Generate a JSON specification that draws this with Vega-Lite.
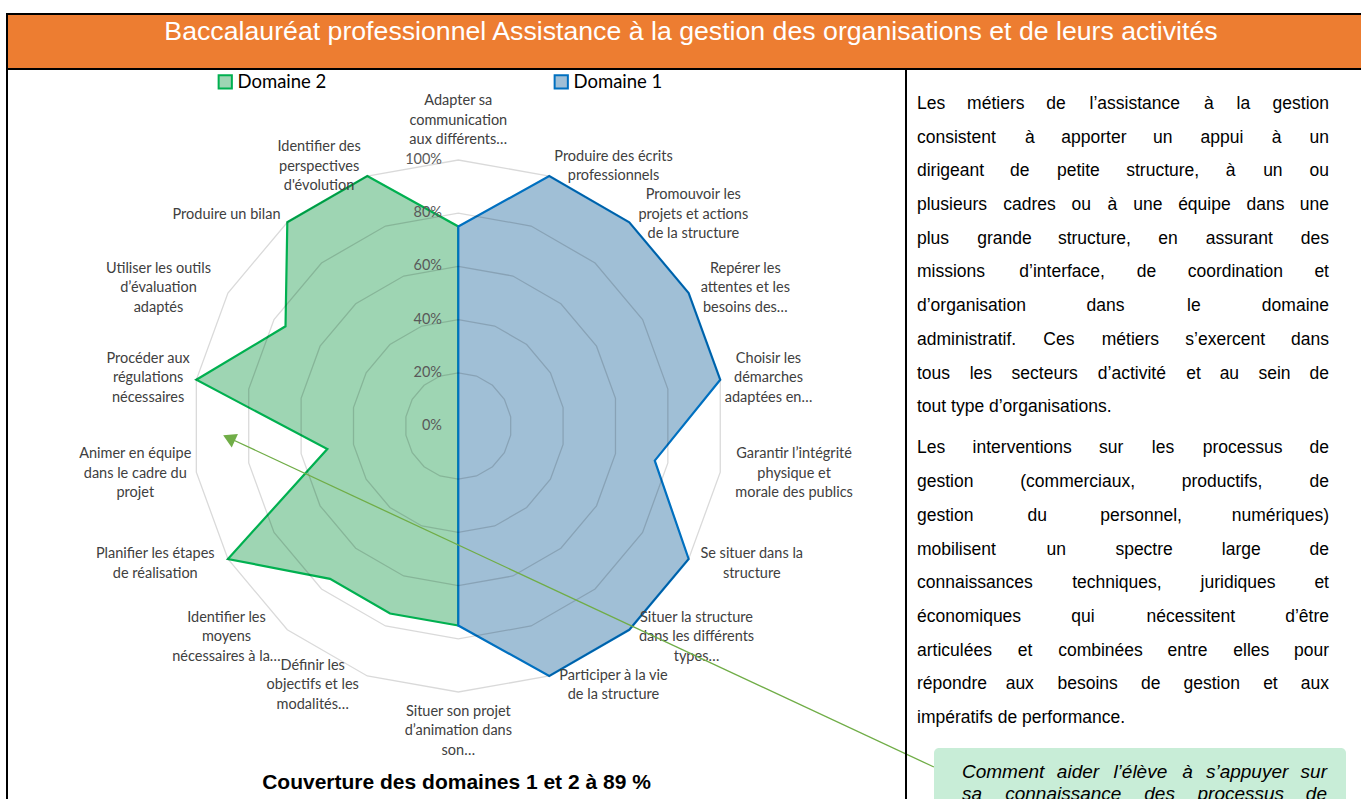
{
  "$schema": "https://vega.github.io/schema/vega-lite/v6.json",
  "padding": {"left": 6, "top": 13, "right": 0, "bottom": 0},
  "background": "#ffffff",
  "spacing": 0,
  "bounds": "flush",
  "config": {"view": {"stroke": "#000000", "strokeWidth": 2}},
  "datasets": {
    "scores": [
      {"series": "Domaine 1", "k": 0, "v": 75}, {"series": "Domaine 1", "k": 1, "v": 100}, {"series": "Domaine 1", "k": 2, "v": 100},
      {"series": "Domaine 1", "k": 3, "v": 100}, {"series": "Domaine 1", "k": 4, "v": 100}, {"series": "Domaine 1", "k": 5, "v": 75},
      {"series": "Domaine 1", "k": 6, "v": 100}, {"series": "Domaine 1", "k": 7, "v": 100}, {"series": "Domaine 1", "k": 8, "v": 100},
      {"series": "Domaine 1", "k": 9, "v": 75}, {"series": "Domaine 1", "k": 10, "v": 0}, {"series": "Domaine 1", "k": 11, "v": 0},
      {"series": "Domaine 1", "k": 12, "v": 0}, {"series": "Domaine 1", "k": 13, "v": 0}, {"series": "Domaine 1", "k": 14, "v": 0},
      {"series": "Domaine 1", "k": 15, "v": 0}, {"series": "Domaine 1", "k": 16, "v": 0}, {"series": "Domaine 1", "k": 17, "v": 0},
      {"series": "Domaine 2", "k": 0, "v": 75}, {"series": "Domaine 2", "k": 1, "v": 0}, {"series": "Domaine 2", "k": 2, "v": 0},
      {"series": "Domaine 2", "k": 3, "v": 0}, {"series": "Domaine 2", "k": 4, "v": 0}, {"series": "Domaine 2", "k": 5, "v": 0},
      {"series": "Domaine 2", "k": 6, "v": 0}, {"series": "Domaine 2", "k": 7, "v": 0}, {"series": "Domaine 2", "k": 8, "v": 0},
      {"series": "Domaine 2", "k": 9, "v": 75}, {"series": "Domaine 2", "k": 10, "v": 75}, {"series": "Domaine 2", "k": 11, "v": 75},
      {"series": "Domaine 2", "k": 12, "v": 100}, {"series": "Domaine 2", "k": 13, "v": 50}, {"series": "Domaine 2", "k": 14, "v": 100},
      {"series": "Domaine 2", "k": 15, "v": 75}, {"series": "Domaine 2", "k": 16, "v": 100}, {"series": "Domaine 2", "k": 17, "v": 100}
    ],
    "cats": [
      {"k": 0, "label": "Adapter sa|communication|aux différents…"},
      {"k": 1, "label": "Produire des écrits|professionnels"},
      {"k": 2, "label": "Promouvoir les|projets et actions|de la structure"},
      {"k": 3, "label": "Repérer les|attentes et les|besoins des…"},
      {"k": 4, "label": "Choisir les|démarches|adaptées en…"},
      {"k": 5, "label": "Garantir l’intégrité|physique et|morale des publics"},
      {"k": 6, "label": "Se situer dans la|structure"},
      {"k": 7, "label": "Situer la structure|dans les différents|types…"},
      {"k": 8, "label": "Participer à la vie|de la structure"},
      {"k": 9, "label": "Situer son projet|d’animation dans|son…"},
      {"k": 10, "label": "Définir les|objectifs et les|modalités…"},
      {"k": 11, "label": "Identifier les|moyens|nécessaires à la…"},
      {"k": 12, "label": "Planifier les étapes|de réalisation"},
      {"k": 13, "label": "Animer en équipe|dans le cadre du|projet"},
      {"k": 14, "label": "Procéder aux|régulations|nécessaires"},
      {"k": 15, "label": "Utiliser les outils|d’évaluation|adaptés"},
      {"k": 16, "label": "Produire un bilan"},
      {"k": 17, "label": "Identifier des|perspectives|d'évolution"}
    ],
    "rings": [
      {"level": 20, "ks": [0,1,2,3,4,5,6,7,8,9,10,11,12,13,14,15,16,17]},
      {"level": 40, "ks": [0,1,2,3,4,5,6,7,8,9,10,11,12,13,14,15,16,17]},
      {"level": 60, "ks": [0,1,2,3,4,5,6,7,8,9,10,11,12,13,14,15,16,17]},
      {"level": 80, "ks": [0,1,2,3,4,5,6,7,8,9,10,11,12,13,14,15,16,17]},
      {"level": 100, "ks": [0,1,2,3,4,5,6,7,8,9,10,11,12,13,14,15,16,17]}
    ],
    "pct": [{"level": 0}, {"level": 20}, {"level": 40}, {"level": 60}, {"level": 80}, {"level": 100}],
    "texte": [
      {"p": 1, "l": 0, "t": "Les métiers de l’assistance à la gestion"},
      {"p": 1, "l": 1, "t": "consistent à apporter un appui à un"},
      {"p": 1, "l": 2, "t": "dirigeant de petite structure, à un ou"},
      {"p": 1, "l": 3, "t": "plusieurs cadres ou à une équipe dans une"},
      {"p": 1, "l": 4, "t": "plus grande structure, en assurant des"},
      {"p": 1, "l": 5, "t": "missions d’interface, de coordination et"},
      {"p": 1, "l": 6, "t": "d’organisation dans le domaine"},
      {"p": 1, "l": 7, "t": "administratif. Ces métiers s’exercent dans"},
      {"p": 1, "l": 8, "t": "tous les secteurs d’activité et au sein de"},
      {"p": 1, "l": 9, "t": "tout type d’organisations."},
      {"p": 2, "l": 0, "t": "Les interventions sur les processus de"},
      {"p": 2, "l": 1, "t": "gestion (commerciaux, productifs, de"},
      {"p": 2, "l": 2, "t": "gestion du personnel, numériques)"},
      {"p": 2, "l": 3, "t": "mobilisent un spectre large de"},
      {"p": 2, "l": 4, "t": "connaissances techniques, juridiques et"},
      {"p": 2, "l": 5, "t": "économiques qui nécessitent d’être"},
      {"p": 2, "l": 6, "t": "articulées et combinées entre elles pour"},
      {"p": 2, "l": 7, "t": "répondre aux besoins de gestion et aux"},
      {"p": 2, "l": 8, "t": "impératifs de performance."}
    ],
    "encadre": [
      {"l": 0, "t": "Comment aider l’élève à s’appuyer sur"},
      {"l": 1, "t": "sa connaissance des processus de"}
    ]
  },
  "vconcat": [
    {
      "width": 1355,
      "height": 55,
      "view": {"fill": "#ED7D31", "stroke": "#000000", "strokeWidth": 2},
      "data": {"values": [{"titre": "Baccalauréat professionnel Assistance à la gestion des organisations et de leurs activités"}]},
      "mark": {"type": "text", "font": "Liberation Sans", "fontSize": 26.7, "color": "#ffffff", "dx": 6.5, "dy": -9.5},
      "encoding": {"text": {"field": "titre", "type": "nominal"}}
    },
    {
      "hconcat": [
        {
          "width": 899,
          "height": 731,
          "title": {"text": "Couverture des domaines 1 et 2 à 89 %", "orient": "bottom", "frame": "group", "anchor": "middle", "offset": -28, "font": "Liberation Sans", "fontSize": 21, "fontWeight": "bold", "color": "#000000"},
          "layer": [
            {
              "data": {"name": "scores"},
              "transform": [
                {"filter": "datum.series == 'Domaine 2'"},
                {"calculate": "datum.v*sin(datum.k*PI/9)", "as": "x"},
                {"calculate": "datum.v*cos(datum.k*PI/9)", "as": "y"}
              ],
              "mark": {"type": "line", "interpolate": "linear-closed", "strokeWidth": 2.2},
              "encoding": {
                "x": {"field": "x", "type": "quantitative", "scale": {"domain": [-169.66, 168.31], "nice": false, "zero": false}, "axis": null},
                "y": {"field": "y", "type": "quantitative", "scale": {"domain": [-140.6, 134.21], "nice": false, "zero": false}, "axis": null},
                "order": {"field": "k", "type": "quantitative"},
                "fill": {"field": "series", "type": "nominal", "scale": {"domain": ["Domaine 2", "Domaine 1"], "range": ["#9ED5B3", "#A0BFD6"]},
                  "legend": {"title": null, "orient": "none", "legendX": 209, "legendY": 58.5, "direction": "horizontal", "symbolType": "square", "symbolSize": 175, "symbolStrokeWidth": 2, "labelFont": "Lato", "labelFontSize": 18.5, "labelColor": "#000000", "columnPadding": 223, "labelOffset": 3}},
                "stroke": {"field": "series", "type": "nominal", "scale": {"domain": ["Domaine 2", "Domaine 1"], "range": ["#00B050", "#0070C0"]},
                  "legend": {"title": null, "orient": "none", "legendX": 209, "legendY": 58.5, "direction": "horizontal", "symbolType": "square", "symbolSize": 175, "symbolStrokeWidth": 2, "labelFont": "Lato", "labelFontSize": 18.5, "labelColor": "#000000", "columnPadding": 223, "labelOffset": 3}}
              }
            },
            {
              "data": {"name": "scores"},
              "transform": [
                {"filter": "datum.series == 'Domaine 1'"},
                {"calculate": "datum.v*sin(datum.k*PI/9)", "as": "x"},
                {"calculate": "datum.v*cos(datum.k*PI/9)", "as": "y"}
              ],
              "mark": {"type": "line", "interpolate": "linear-closed", "strokeWidth": 2.2},
              "encoding": {
                "x": {"field": "x", "type": "quantitative", "scale": {"domain": [-169.66, 168.31], "nice": false, "zero": false}, "axis": null},
                "y": {"field": "y", "type": "quantitative", "scale": {"domain": [-140.6, 134.21], "nice": false, "zero": false}, "axis": null},
                "order": {"field": "k", "type": "quantitative"},
                "fill": {"field": "series", "type": "nominal", "scale": {"domain": ["Domaine 2", "Domaine 1"], "range": ["#9ED5B3", "#A0BFD6"]},
                  "legend": {"title": null, "orient": "none", "legendX": 209, "legendY": 58.5, "direction": "horizontal", "symbolType": "square", "symbolSize": 175, "symbolStrokeWidth": 2, "labelFont": "Lato", "labelFontSize": 18.5, "labelColor": "#000000", "columnPadding": 223, "labelOffset": 3}},
                "stroke": {"field": "series", "type": "nominal", "scale": {"domain": ["Domaine 2", "Domaine 1"], "range": ["#00B050", "#0070C0"]},
                  "legend": {"title": null, "orient": "none", "legendX": 209, "legendY": 58.5, "direction": "horizontal", "symbolType": "square", "symbolSize": 175, "symbolStrokeWidth": 2, "labelFont": "Lato", "labelFontSize": 18.5, "labelColor": "#000000", "columnPadding": 223, "labelOffset": 3}}
              }
            },
            {
              "data": {"name": "rings"},
              "transform": [
                {"flatten": ["ks"], "as": ["k"]},
                {"calculate": "datum.level*sin(datum.k*PI/9)", "as": "x"},
                {"calculate": "datum.level*cos(datum.k*PI/9)", "as": "y"}
              ],
              "mark": {"type": "line", "interpolate": "linear-closed", "stroke": "#000000", "strokeOpacity": 0.15, "strokeWidth": 1.3},
              "encoding": {
                "x": {"field": "x", "type": "quantitative", "scale": {"domain": [-169.66, 168.31], "nice": false, "zero": false}, "axis": null},
                "y": {"field": "y", "type": "quantitative", "scale": {"domain": [-140.6, 134.21], "nice": false, "zero": false}, "axis": null},
                "detail": {"field": "level", "type": "nominal"},
                "order": {"field": "k", "type": "quantitative"}
              }
            },
            {
              "data": {"name": "pct"},
              "transform": [{"calculate": "datum.level + '%'", "as": "lab"}],
              "mark": {"type": "text", "align": "right", "baseline": "middle", "font": "Lato", "fontSize": 14.5, "color": "#595959"},
              "encoding": {
                "x": {"datum": -6.13, "type": "quantitative", "scale": {"domain": [-169.66, 168.31], "nice": false, "zero": false}, "axis": null},
                "y": {"field": "level", "type": "quantitative", "scale": {"domain": [-140.6, 134.21], "nice": false, "zero": false}, "axis": null},
                "text": {"field": "lab", "type": "nominal"}
              }
            },
            {
              "data": {"name": "cats"},
              "transform": [
                {"calculate": "datum.k*PI/9", "as": "a"},
                {"calculate": "split(datum.label, '|')", "as": "lines"},
                {"calculate": "length(datum.lines)", "as": "n"},
                {"calculate": "max(length(datum.lines[0]), datum.n > 1 ? length(datum.lines[1]) : 0, datum.n > 2 ? length(datum.lines[2]) : 0)", "as": "mx"},
                {"calculate": "sin(datum.a)", "as": "s"},
                {"calculate": "cos(datum.a)", "as": "c"},
                {"calculate": "103.76*datum.s + (abs(datum.s) < 0.01 ? 0 : (datum.s > 0 ? 1 : -1)*datum.mx*1.203)", "as": "lx"},
                {"calculate": "103.76*datum.c + (datum.k == 0 ? datum.n*3.665 : (datum.k == 9 ? -datum.n*3.665 : 0)) + (datum.n - 1)*3.665", "as": "ly"}
              ],
              "mark": {"type": "text", "align": "center", "baseline": "middle", "lineBreak": "|", "lineHeight": 19.5, "font": "Lato", "fontSize": 14.5, "color": "#404040"},
              "encoding": {
                "x": {"field": "lx", "type": "quantitative", "scale": {"domain": [-169.66, 168.31], "nice": false, "zero": false}, "axis": null},
                "y": {"field": "ly", "type": "quantitative", "scale": {"domain": [-140.6, 134.21], "nice": false, "zero": false}, "axis": null},
                "text": {"field": "label", "type": "nominal"}
              }
            },
            {
              "data": {"values": [{"renvoi": "encadré"}]},
              "mark": {"type": "rule", "color": "#70AD47", "strokeWidth": 1.3},
              "encoding": {
                "x": {"datum": 178.8, "type": "quantitative", "scale": {"domain": [-169.66, 168.31], "nice": false, "zero": false}, "axis": null},
                "y": {"datum": -128.2, "type": "quantitative", "scale": {"domain": [-140.6, 134.21], "nice": false, "zero": false}, "axis": null},
                "x2": {"datum": -86.2},
                "y2": {"datum": -4.5}
              }
            },
            {
              "data": {"values": [{"renvoi": "encadré"}]},
              "mark": {"type": "point", "shape": "triangle-up", "angle": 294.8, "size": 220, "filled": true, "color": "#70AD47", "opacity": 1},
              "encoding": {
                "x": {"datum": -86.2, "type": "quantitative", "scale": {"domain": [-169.66, 168.31], "nice": false, "zero": false}, "axis": null},
                "y": {"datum": -4.5, "type": "quantitative", "scale": {"domain": [-140.6, 134.21], "nice": false, "zero": false}, "axis": null}
              }
            }
          ]
        },
        {
          "width": 456,
          "height": 731,
          "layer": [
            {
              "data": {"name": "texte"},
              "transform": [
                {"joinaggregate": [{"op": "max", "field": "l", "as": "ml"}], "groupby": ["p"]},
                {"filter": "datum.l == datum.ml"},
                {"calculate": "datum.p == 1 ? datum.l : 10.22 + datum.l", "as": "r"}
              ],
              "mark": {"type": "text", "align": "left", "baseline": "middle", "font": "Liberation Sans", "fontSize": 17.5, "color": "#000000"},
              "encoding": {
                "x": {"datum": 0.55, "type": "quantitative", "scale": {"domain": [0, 22.8], "nice": false, "zero": false}, "axis": null},
                "y": {"field": "r", "type": "quantitative", "scale": {"domain": [-1.0386, 20.653], "nice": false, "zero": false, "reverse": true}, "axis": null},
                "text": {"field": "t", "type": "nominal"}
              }
            },
            {
              "data": {"name": "texte"},
              "transform": [
                {"joinaggregate": [{"op": "max", "field": "l", "as": "ml"}], "groupby": ["p"]},
                {"filter": "datum.l < datum.ml"},
                {"calculate": "datum.p == 1 ? datum.l : 10.22 + datum.l", "as": "r"},
                {"calculate": "split(datum.t, ' ')", "as": "words"},
                {"flatten": ["words"], "as": ["w"]},
                {"calculate": "0.53*length(datum.w) - 0.26*length(replace(datum.w, regexp('[^iljtfr’.,;:()]', 'g'), '')) + 0.28*length(replace(datum.w, regexp('[^mwMWCDGHNOQU]', 'g'), ''))", "as": "we"},
                {"window": [{"op": "row_number", "as": "k"}, {"op": "sum", "field": "we", "as": "cum"}], "groupby": ["p", "l"], "frame": [null, 0], "ignorePeers": true},
                {"joinaggregate": [{"op": "count", "as": "n"}, {"op": "sum", "field": "we", "as": "tot"}], "groupby": ["p", "l"]},
                {"calculate": "(20.6 - datum.tot*0.875)/(datum.n - 1)", "as": "gap"},
                {"calculate": "0.55 + (datum.cum - datum.we/2)*0.875 + (datum.k - 1)*datum.gap", "as": "xc"}
              ],
              "layer": [
                {
                  "transform": [{"filter": "datum.k == 1"}],
                  "mark": {"type": "text", "align": "left", "baseline": "middle", "font": "Liberation Sans", "fontSize": 17.5, "color": "#000000"},
                  "encoding": {
                    "x": {"datum": 0.55, "type": "quantitative", "scale": {"domain": [0, 22.8], "nice": false, "zero": false}, "axis": null},
                    "y": {"field": "r", "type": "quantitative", "scale": {"domain": [-1.0386, 20.653], "nice": false, "zero": false, "reverse": true}, "axis": null},
                    "text": {"field": "w", "type": "nominal"}
                  }
                },
                {
                  "transform": [{"filter": "datum.k == datum.n"}],
                  "mark": {"type": "text", "align": "right", "baseline": "middle", "font": "Liberation Sans", "fontSize": 17.5, "color": "#000000"},
                  "encoding": {
                    "x": {"datum": 21.15, "type": "quantitative", "scale": {"domain": [0, 22.8], "nice": false, "zero": false}, "axis": null},
                    "y": {"field": "r", "type": "quantitative", "scale": {"domain": [-1.0386, 20.653], "nice": false, "zero": false, "reverse": true}, "axis": null},
                    "text": {"field": "w", "type": "nominal"}
                  }
                },
                {
                  "transform": [{"filter": "datum.k > 1 && datum.k < datum.n"}],
                  "mark": {"type": "text", "align": "center", "baseline": "middle", "font": "Liberation Sans", "fontSize": 17.5, "color": "#000000"},
                  "encoding": {
                    "x": {"field": "xc", "type": "quantitative", "scale": {"domain": [0, 22.8], "nice": false, "zero": false}, "axis": null},
                    "y": {"field": "r", "type": "quantitative", "scale": {"domain": [-1.0386, 20.653], "nice": false, "zero": false, "reverse": true}, "axis": null},
                    "text": {"field": "w", "type": "nominal"}
                  }
                }
              ]
            },
            {
              "data": {"values": [{"encadre": "question"}]},
              "mark": {"type": "rect", "fill": "#C8EDD7", "cornerRadiusTopLeft": 5, "cornerRadiusTopRight": 5},
              "encoding": {
                "x": {"datum": 1.4, "type": "quantitative", "scale": {"domain": [0, 22.8], "nice": false, "zero": false}, "axis": null},
                "x2": {"datum": 22.0},
                "y": {"datum": 19.11, "type": "quantitative", "scale": {"domain": [-1.0386, 20.653], "nice": false, "zero": false, "reverse": true}, "axis": null},
                "y2": {"datum": 20.653}
              }
            },
            {
              "data": {"name": "encadre"},
              "transform": [
                {"calculate": "19.82 + datum.l*0.653", "as": "r"},
                {"calculate": "split(datum.t, ' ')", "as": "words"},
                {"flatten": ["words"], "as": ["w"]},
                {"calculate": "0.53*length(datum.w) - 0.26*length(replace(datum.w, regexp('[^iljtfr’.,;:()]', 'g'), '')) + 0.28*length(replace(datum.w, regexp('[^mwMWCDGHNOQU]', 'g'), ''))", "as": "we"},
                {"window": [{"op": "row_number", "as": "k"}, {"op": "sum", "field": "we", "as": "cum"}], "groupby": ["l"], "frame": [null, 0], "ignorePeers": true},
                {"joinaggregate": [{"op": "count", "as": "n"}, {"op": "sum", "field": "we", "as": "tot"}], "groupby": ["l"]},
                {"calculate": "(18.25 - datum.tot*0.95)/(datum.n - 1)", "as": "gap"},
                {"calculate": "2.8 + (datum.cum - datum.we/2)*0.95 + (datum.k - 1)*datum.gap", "as": "xc"}
              ],
              "layer": [
                {
                  "transform": [{"filter": "datum.k == 1"}],
                  "mark": {"type": "text", "align": "left", "baseline": "middle", "font": "Liberation Sans", "fontStyle": "italic", "fontSize": 19, "color": "#000000"},
                  "encoding": {
                    "x": {"datum": 2.8, "type": "quantitative", "scale": {"domain": [0, 22.8], "nice": false, "zero": false}, "axis": null},
                    "y": {"field": "r", "type": "quantitative", "scale": {"domain": [-1.0386, 20.653], "nice": false, "zero": false, "reverse": true}, "axis": null},
                    "text": {"field": "w", "type": "nominal"}
                  }
                },
                {
                  "transform": [{"filter": "datum.k == datum.n"}],
                  "mark": {"type": "text", "align": "right", "baseline": "middle", "font": "Liberation Sans", "fontStyle": "italic", "fontSize": 19, "color": "#000000"},
                  "encoding": {
                    "x": {"datum": 21.05, "type": "quantitative", "scale": {"domain": [0, 22.8], "nice": false, "zero": false}, "axis": null},
                    "y": {"field": "r", "type": "quantitative", "scale": {"domain": [-1.0386, 20.653], "nice": false, "zero": false, "reverse": true}, "axis": null},
                    "text": {"field": "w", "type": "nominal"}
                  }
                },
                {
                  "transform": [{"filter": "datum.k > 1 && datum.k < datum.n"}],
                  "mark": {"type": "text", "align": "center", "baseline": "middle", "font": "Liberation Sans", "fontStyle": "italic", "fontSize": 19, "color": "#000000"},
                  "encoding": {
                    "x": {"field": "xc", "type": "quantitative", "scale": {"domain": [0, 22.8], "nice": false, "zero": false}, "axis": null},
                    "y": {"field": "r", "type": "quantitative", "scale": {"domain": [-1.0386, 20.653], "nice": false, "zero": false, "reverse": true}, "axis": null},
                    "text": {"field": "w", "type": "nominal"}
                  }
                }
              ]
            }
          ]
        }
      ],
      "spacing": 0,
      "bounds": "flush"
    }
  ]
}
